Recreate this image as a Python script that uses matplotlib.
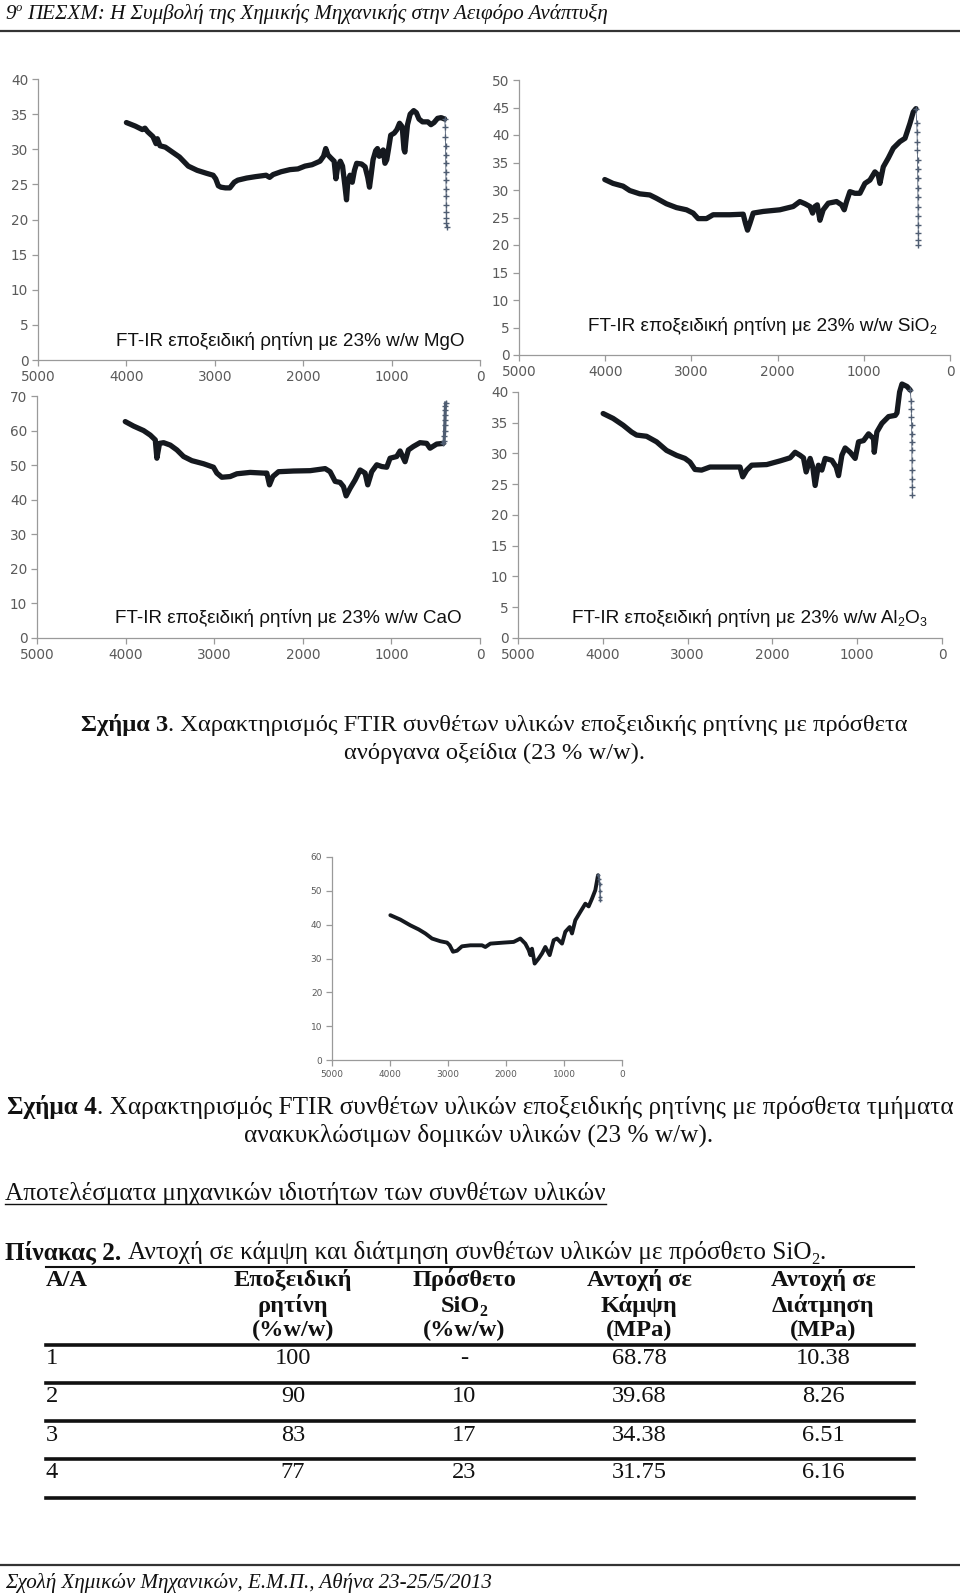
import matplotlib
matplotlib.use("Agg")
import matplotlib.pyplot as plt
from matplotlib.lines import Line2D

# ---------------- data ----------------
wn_ticks = [5000, 4000, 3000, 2000, 1000, 0]

mgo_wn = [4000, 3900, 3820, 3790, 3760, 3700, 3665, 3650, 3620, 3560, 3480, 3400, 3300, 3200, 3100,
          3019, 2990, 2960, 2930, 2880, 2830, 2780, 2740, 2640, 2540, 2420, 2380, 2340, 2250, 2150,
          2060, 1980, 1900, 1810, 1770, 1745, 1720, 1690, 1650, 1630, 1610, 1580, 1555, 1530, 1510,
          1495, 1470, 1445, 1420, 1395, 1340, 1300, 1270, 1250, 1230, 1210, 1180, 1160, 1140, 1120,
          1095, 1075, 1055, 1035, 1010, 970, 940, 910, 880, 860, 850, 840, 820, 790, 750, 720, 690,
          650, 590, 555, 520, 480, 440, 400]
mgo_t = [33.8, 33.3, 32.8, 33.0, 32.5, 31.8, 30.8, 31.5, 30.5, 30.3, 29.6, 28.9, 27.6, 27.0, 26.6,
         26.3, 25.8, 24.8, 24.6, 24.5, 24.5, 25.3, 25.6, 25.9, 26.1, 26.3, 26.0, 26.4, 26.8, 27.1,
         27.2, 27.6, 27.8, 28.3, 29.0, 30.1, 29.2, 28.8, 28.3, 25.8, 27.5, 28.3, 27.6, 25.0, 22.8,
         25.5, 26.3, 25.3, 27.0, 28.0, 27.9, 27.5, 26.0, 24.6, 26.5, 28.5, 29.8, 30.1, 29.0, 29.5,
         29.9, 28.0, 28.5, 30.0, 32.0, 32.3, 32.8, 33.7, 33.2, 30.0, 29.6, 31.0, 33.5, 35.0, 35.5,
         35.2, 34.3, 33.9, 33.9, 33.5, 33.8, 34.4, 34.5, 34.3]
mgo_tail_wn = [393, 391, 389, 388, 387, 386, 385, 384, 383, 382, 381, 380, 379, 378]
mgo_tail_t = [33.2, 31.8, 30.4, 29.2, 28.0, 26.8, 25.6, 24.4, 23.3, 22.1, 21.1, 20.2, 19.5, 19.0]

sio2_wn = [4005, 3909, 3793, 3715, 3599, 3483, 3406, 3290, 3173, 3057, 2980, 2922, 2825, 2748, 2554,
           2399, 2372, 2349, 2322, 2283, 2167, 1974, 1819, 1742, 1683, 1625, 1594, 1567, 1540, 1509,
           1471, 1412, 1316, 1258, 1227, 1200, 1161, 1103, 1045, 987, 929, 871, 832, 813, 774, 716,
           658, 581, 522, 465, 426, 395]
sio2_t = [31.9, 31.2, 30.7, 29.9, 29.3, 29.1, 28.5, 27.5, 26.8, 26.4, 25.8, 24.8, 24.8, 25.5, 25.5,
          25.6, 23.9, 22.7, 23.9, 25.8, 26.1, 26.4, 27.0, 27.9, 27.5, 27.0, 25.8, 27.0, 27.3, 24.5,
          26.4, 27.6, 27.9, 27.3, 26.4, 27.9, 29.7, 29.4, 29.4, 31.2, 31.8, 33.3, 32.7, 31.2, 34.2, 35.8,
          37.6, 38.8, 39.4, 42.1, 44.2, 44.8]
sio2_tail_wn = [385, 382, 380, 378, 376, 375, 374, 373, 372, 371, 370, 369, 368, 367, 366]
sio2_tail_t = [42.1, 40.6, 38.8, 37.3, 35.5, 33.9, 32.1, 30.3, 28.8, 27.0, 25.2, 23.6, 22.1, 20.9, 20.0]

cao_wn = [4004, 3910, 3797, 3722, 3665, 3647, 3617, 3571, 3496, 3421, 3346, 3252, 3120, 3008, 2970,
          2914, 2820, 2744, 2594, 2444, 2406, 2376, 2338, 2274, 2105, 1917, 1748, 1692, 1635, 1579,
          1541, 1511, 1466, 1410, 1353, 1297, 1267, 1222, 1165, 1109, 1053, 1015, 940, 902, 846, 808,
          752, 677, 602, 564, 489, 414]
cao_t = [62.6, 61.3, 60.0, 58.7, 57.3, 52.0, 56.3, 56.5, 55.8, 54.4, 52.5, 51.3, 50.4, 49.4, 47.7,
         46.5, 46.7, 47.5, 47.9, 47.7, 47.7, 44.3, 46.7, 48.1, 48.3, 48.4, 49.0, 48.1, 45.3, 45.0,
         43.8, 41.1, 43.3, 45.7, 48.6, 47.7, 44.3, 48.1, 50.1, 49.6, 49.4, 52.0, 52.5, 54.1, 51.0, 54.4,
         55.4, 56.5, 56.3, 54.9, 56.1, 56.3]
cao_tail_wn = [405, 402, 400, 398, 396, 394, 392, 390, 388]
cao_tail_t = [57.0, 58.5, 60.0, 61.5, 63.0, 64.5, 66.0, 67.2, 68.0]

al2o3_wn = [3996, 3878, 3760, 3661, 3602, 3484, 3366, 3248, 3130, 3031, 2972, 2913, 2835, 2736, 2500,
            2382, 2350, 2303, 2244, 2067, 1909, 1791, 1732, 1673, 1634, 1602, 1555, 1524, 1496, 1457,
            1417, 1378, 1299, 1248, 1220, 1181, 1142, 1083, 1024, 984, 925, 866, 807, 799, 768, 709,
            630, 551, 531, 500, 472, 413, 374]
al2o3_t = [36.5, 35.7, 34.6, 33.5, 33.0, 32.8, 31.9, 30.5, 29.7, 29.2, 28.6, 27.4, 27.3, 27.8, 27.8,
           27.8, 26.2, 27.3, 28.1, 28.2, 28.8, 29.3, 30.2, 29.7, 29.3, 27.0, 29.2, 27.8, 24.8, 28.1,
           27.3, 29.2, 28.9, 27.8, 26.4, 29.7, 30.9, 30.2, 29.2, 31.9, 32.1, 33.2, 32.4, 30.2, 33.5, 34.9,
           36.0, 36.2, 36.6, 40.0, 41.3, 40.9, 40.3]
al2o3_tail_wn = [365, 362, 360, 358, 357, 356, 355, 354, 353, 352, 351, 350]
al2o3_tail_t = [38.6, 37.3, 35.9, 34.6, 33.2, 31.9, 30.5, 28.9, 27.3, 25.9, 24.6, 23.2]

rec_wn = [3994, 3822, 3649, 3506, 3391, 3276, 3132, 3017, 2971, 2914, 2845, 2759, 2615, 2414, 2356,
          2270, 2040, 1868, 1753, 1667, 1609, 1580, 1552, 1506, 1437, 1379, 1322, 1247, 1178, 1121,
          1034, 977, 902, 862, 805, 718, 632, 575, 517, 460, 414]
rec_t = [42.8, 41.5, 39.8, 38.6, 37.4, 35.9, 35.1, 34.7, 33.9, 32.0, 32.3, 33.6, 33.9, 33.9, 33.4,
         34.4, 34.7, 34.9, 35.9, 34.4, 32.5, 31.0, 32.9, 28.5, 30.0, 31.5, 33.4, 31.0, 35.4, 35.9,
         34.4, 37.9, 39.3, 37.4, 41.3, 43.8, 46.2, 45.4, 47.7, 50.2, 54.6]
rec_tail_wn = [395, 385, 380, 376, 374]
rec_tail_t = [53.5, 52.1, 50.0, 48.2, 47.2]

# table
tab_aa = ["1", "2", "3", "4"]
tab_epoxy = ["100", "90", "83", "77"]
tab_sio2 = ["-", "10", "17", "23"]
tab_flex = ["68.78", "39.68", "34.38", "31.75"]
tab_shear = ["10.38", "8.26", "6.51", "6.16"]

# ---------------- figure ----------------
W, H = 960, 1593
fig = plt.figure(figsize=(W / 100, H / 100), dpi=100)
fig.patch.set_facecolor("white")
SERIF = ["Liberation Serif", "DejaVu Serif"]
SANS = ["Liberation Sans", "DejaVu Sans"]
renderer = fig.canvas.get_renderer()


def fx(px):
    return px / W


def fy(py):
    return 1 - py / H


def hline(y, x0, x1, lw, color="#111111"):
    fig.add_artist(Line2D([fx(x0), fx(x1)], [fy(y), fy(y)], color=color, lw=lw,
                          transform=fig.transFigure))


def _w(s, fs, family, kw):
    t = fig.text(0, 0, s, fontsize=fs, family=family, **kw)
    w = t.get_window_extent(renderer).width
    t.remove()
    return w


def text_runs(x, y, runs, width=None, size=None, ha="left", family=SERIF, color="#111111"):
    def layout(fs):
        items, tot = [], 0.0
        for s, o in runs:
            kw = dict(weight=o.get("weight", "normal"), style=o.get("style", "normal"))
            if o.get("sp"):
                tot += _w("n n", fs, family, kw) - _w("nn", fs, family, kw)
            f = fs * o.get("scale", 1.0)
            items.append((tot, s, f, kw, o.get("rise", 0.0)))
            tot += _w(s, f, family, kw)
        return items, tot

    fs = size
    if fs is None:
        _, tot10 = layout(10.0)
        fs = 10.0 * width / tot10
    items, tot = layout(fs)
    x0 = x - tot / 2 if ha == "center" else x
    for off, s, f, kw, rise in items:
        fig.text(fx(x0 + off), fy(y - rise * fs * 100 / 72), s, fontsize=f, family=family,
                 ha="left", va="baseline", color=color, **kw)
    return fs, x0, tot


def ftir(x0, x1, ytop, ybot, ymax, ystep, wn, t, twn, tt, tick_fs, main_lw, tail_ms, tail_lw):
    ax = fig.add_axes([fx(x0), fy(ybot), (x1 - x0) / W, (ybot - ytop) / H])
    ax.set_facecolor("none")
    ax.plot(wn, t, color="#15191f", lw=main_lw, solid_joinstyle="round", solid_capstyle="round",
            clip_on=False)
    ax.plot([wn[-1]] + twn, [t[-1]] + tt, color="#4f5d72", lw=tail_lw, marker="+",
            ms=tail_ms, mew=1.0, clip_on=False)
    ax.set_xlim(5000, 0)
    ax.set_ylim(0, ymax)
    ax.set_xticks(wn_ticks)
    ax.set_yticks(list(range(0, ymax + 1, ystep)))
    for s in ["top", "right"]:
        ax.spines[s].set_visible(False)
    for s in ["left", "bottom"]:
        ax.spines[s].set_color("#9a9a9a")
        ax.spines[s].set_linewidth(0.9)
    ax.tick_params(axis="both", direction="out", length=4, width=0.9, color="#9a9a9a",
                   labelcolor="#5a5a5a", labelsize=tick_fs, pad=3)
    for lbl in ax.get_xticklabels() + ax.get_yticklabels():
        lbl.set_family(["DejaVu Sans"])
    return ax


ftir(38, 480, 79, 360, 40, 5, mgo_wn, mgo_t, mgo_tail_wn, mgo_tail_t, 9.8, 3.8, 4.5, 0.6)
ftir(519, 950, 80, 355, 50, 5, sio2_wn, sio2_t, sio2_tail_wn, sio2_tail_t, 9.8, 3.8, 4.5, 0.6)
ftir(37, 480, 396, 638, 70, 10, cao_wn, cao_t, cao_tail_wn, cao_tail_t, 9.8, 3.8, 4.5, 2.2)
ftir(518, 942, 392, 638, 40, 5, al2o3_wn, al2o3_t, al2o3_tail_wn, al2o3_tail_t, 9.8, 3.8, 4.5, 0.6)
ftir(332, 622, 857, 1060, 60, 10, rec_wn, rec_t, rec_tail_wn, rec_tail_t, 6.5, 2.8, 3.0, 1.0)

# chart annotations
SUB = {"scale": 0.65, "rise": -0.18}
text_runs(290, 346, [("FT-IR εποξειδική ρητίνη με 23% w/w MgO", {})], width=351, ha="center",
          family=SANS)
text_runs(762, 331, [("FT-IR εποξειδική ρητίνη με 23% w/w SiO", {}), ("2", SUB)], width=350,
          ha="center", family=SANS)
text_runs(288, 623, [("FT-IR εποξειδική ρητίνη με 23% w/w CaO", {})], width=348, ha="center",
          family=SANS)
text_runs(749, 623, [("FT-IR εποξειδική ρητίνη με 23% w/w Al", {}), ("2", SUB), ("O", {}),
                     ("3", SUB)], width=356, ha="center", family=SANS)

# header / footer
text_runs(5, 19, [("9", {"style": "italic"}),
                  ("ο", {"style": "italic", "scale": 0.6, "rise": 0.38}),
                  ("ΠΕΣΧΜ: Η Συμβολή της Χημικής Μηχανικής στην Αειφόρο Ανάπτυξη",
                   {"style": "italic", "sp": True})], width=605)
hline(30.5, 0, 960, 1.6, "#333333")
hline(1565, 0, 960, 1.6, "#333333")
text_runs(5, 1588, [("Σχολή Χημικών Μηχανικών, Ε.Μ.Π., Αθήνα 23-25/5/2013", {"style": "italic"})],
          width=488)

# captions
B = {"weight": "bold"}
fs3, _, _ = text_runs(494, 731, [("Σχήμα 3", B),
                                 (". Χαρακτηρισμός FTIR συνθέτων υλικών εποξειδικής ρητίνης με πρόσθετα", {})],
                      width=825, ha="center")
text_runs(494, 759, [("ανόργανα οξείδια (23 % w/w).", {})], size=fs3, ha="center")
fs4, _, _ = text_runs(480, 1114, [("Σχήμα 4", B),
                                  (". Χαρακτηρισμός FTIR συνθέτων υλικών εποξειδικής ρητίνης με πρόσθετα τμήματα", {})],
                      width=945, ha="center")
text_runs(479, 1142, [("ανακυκλώσιμων δομικών υλικών (23 % w/w).", {})], size=fs4, ha="center")

_, hx0, hw = text_runs(5, 1200, [("Αποτελέσματα μηχανικών ιδιοτήτων των συνθέτων υλικών", {})],
                       width=599)
hline(1204, hx0, hx0 + hw, 1.0)

text_runs(5, 1259, [("Πίνακας 2.", B),
                    ("Αντοχή σε κάμψη και διάτμηση συνθέτων υλικών με πρόσθετο SiO", {"sp": True}),
                    ("2", SUB), (".", {})], width=818)

# table
hline(1267, 46, 914, 1.5)
tfs, _, _ = text_runs(293, 1286, [("Εποξειδική", B)], width=119, ha="center")
text_runs(46, 1286, [("A/A", B)], size=tfs)
text_runs(293, 1312, [("ρητίνη", B)], size=tfs, ha="center")
text_runs(293, 1336, [("(%w/w)", B)], size=tfs, ha="center")
text_runs(464, 1286, [("Πρόσθετο", B)], size=tfs, ha="center")
text_runs(464, 1312, [("SiO", B), ("2", {"weight": "bold", "scale": 0.65, "rise": -0.18})],
          size=tfs, ha="center")
text_runs(464, 1336, [("(%w/w)", B)], size=tfs, ha="center")
text_runs(639, 1286, [("Αντοχή σε", B)], size=tfs, ha="center")
text_runs(639, 1312, [("Κάμψη", B)], size=tfs, ha="center")
text_runs(639, 1336, [("(MPa)", B)], size=tfs, ha="center")
text_runs(823, 1286, [("Αντοχή σε", B)], size=tfs, ha="center")
text_runs(823, 1312, [("Διάτμηση", B)], size=tfs, ha="center")
text_runs(823, 1336, [("(MPa)", B)], size=tfs, ha="center")
hline(1345, 46, 914, 2.6)

row_base = [1364, 1402, 1441, 1478]
row_line = [1383, 1421, 1459, 1498]
for i in range(len(tab_aa)):
    yb = row_base[i]
    text_runs(46, yb, [(tab_aa[i], {})], size=tfs)
    text_runs(293, yb, [(tab_epoxy[i], {})], size=tfs, ha="center")
    text_runs(464, yb, [(tab_sio2[i], {})], size=tfs, ha="center")
    text_runs(639, yb, [(tab_flex[i], {})], size=tfs, ha="center")
    text_runs(823, yb, [(tab_shear[i], {})], size=tfs, ha="center")
    hline(row_line[i], 46, 914, 2.6)

fig.savefig("out.png", dpi=100, facecolor="white")
